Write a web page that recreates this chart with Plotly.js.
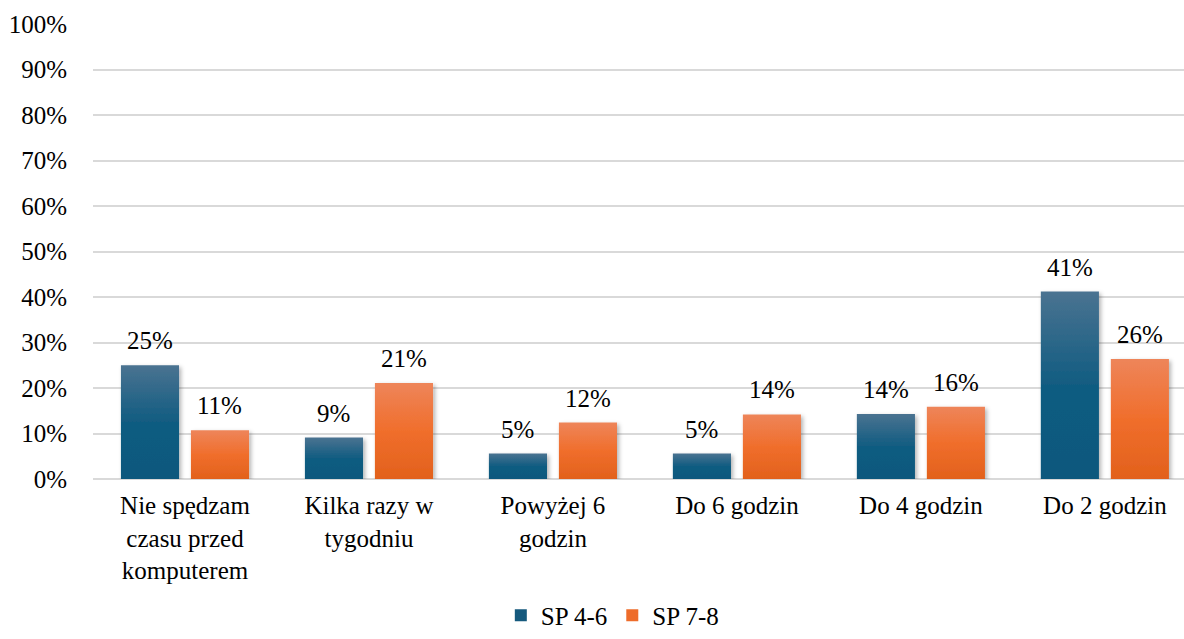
<!DOCTYPE html>
<html>
<head>
<meta charset="utf-8">
<script src="https://cdn.plot.ly/plotly-3.0.1.min.js"></script>
</head>
<body style="margin:0">
<div id="chart" style="width:1184px;height:639px"></div>
<script>
// ---- data ----
const categories = [
  "Nie spędzam<br>czasu przed<br>komputerem",
  "Kilka razy w<br>tygodniu",
  "Powyżej 6<br>godzin",
  "Do 6 godzin",
  "Do 4 godzin",
  "Do 2 godzin"
];
const seriesNames = ["SP 4-6", "SP 7-8"];
const sp46 = [25, 9.1, 5.6, 5.6, 14.3, 41.2];
const sp78 = [10.7, 21.1, 12.4, 14.2, 15.9, 26.4];
const sp46Labels = ["25%", "9%", "5%", "5%", "14%", "41%"];
const sp78Labels = ["11%", "21%", "12%", "14%", "16%", "26%"];
const yTickVals = [0,10,20,30,40,50,60,70,80,90,100];
const yTickText = ["0%","10%","20%","30%","40%","50%","60%","70%","80%","90%","100%"];

// ---- style ----
const BARGAP = 0.239, BARGROUPGAP = 0.17;
const slot = (1 - BARGAP) / 2;

const traces = [
  {type: "bar", name: seriesNames[0], x: categories, y: sp46, marker: {color: "#15597d"}, hoverinfo: "none"},
  {type: "bar", name: seriesNames[1], x: categories, y: sp78, marker: {color: "#ee6c2a"}, hoverinfo: "none"}
];

const annotations = [];
[[sp46, sp46Labels, -1], [sp78, sp78Labels, 1]].forEach(([vals, labs, side]) => {
  vals.forEach((v, i) => {
    annotations.push({
      x: i + side * slot / 2, y: v, xref: "x", yref: "y",
      text: labs[i], showarrow: false, yanchor: "bottom", yshift: 9,
      font: {color: "#000"}
    });
  });
});

const layout = {
  width: 1184, height: 639,
  margin: {l: 93, r: 0, t: 24, b: 156},
  font: {family: "Liberation Serif", size: 25},
  barmode: "group", bargap: BARGAP, bargroupgap: BARGROUPGAP,
  legend: {orientation: "h", x: 0.476, xanchor: "center", y: -0.3, yanchor: "middle",
           font: {color: "#000"}},
  xaxis: {
    type: "category", range: [-0.5, 5.43], automargin: false,
    showgrid: false, zeroline: false, showline: false,
    ticks: "outside", ticklen: 4, tickcolor: "rgba(0,0,0,0)",
    tickfont: {color: "#000"}
  },
  yaxis: {
    range: [0, 100], tickvals: yTickVals, ticktext: yTickText, automargin: false,
    gridcolor: "#d9d9d9", gridwidth: 2,
    zeroline: true, zerolinecolor: "#d9d9d9", zerolinewidth: 2,
    ticks: "outside", ticklen: 20, tickcolor: "rgba(0,0,0,0)",
    tickfont: {color: "#000"}
  },
  annotations: annotations
};

Plotly.newPlot("chart", traces, layout, {displayModeBar: false}).then(gd => {
  const svg = gd.querySelector(".main-svg");
  const ns = "http://www.w3.org/2000/svg";
  let defs = svg.querySelector("defs");
  if (!defs) { defs = document.createElementNS(ns, "defs"); svg.insertBefore(defs, svg.firstChild); }
  function grad(id, stops) {
    const g = document.createElementNS(ns, "linearGradient");
    g.setAttribute("id", id); g.setAttribute("x1", "0"); g.setAttribute("y1", "0");
    g.setAttribute("x2", "0"); g.setAttribute("y2", "1");
    stops.forEach(([o, c]) => {
      const s = document.createElementNS(ns, "stop");
      s.setAttribute("offset", o); s.setAttribute("stop-color", c);
      g.appendChild(s);
    });
    defs.appendChild(g);
  }
  grad("gBlue", [["0", "#4a7391"], ["0.5", "#115c81"], ["1", "#0d587d"]]);
  grad("gOrange", [["0", "#ee855a"], ["0.5", "#f06e2c"], ["1", "#e2611c"]]);
  const f = document.createElementNS(ns, "filter");
  f.setAttribute("id", "shadow"); f.setAttribute("x", "-20%"); f.setAttribute("y", "-20%");
  f.setAttribute("width", "140%"); f.setAttribute("height", "140%");
  const ds = document.createElementNS(ns, "feDropShadow");
  ds.setAttribute("dx", "2"); ds.setAttribute("dy", "2"); ds.setAttribute("stdDeviation", "2");
  ds.setAttribute("flood-color", "#000"); ds.setAttribute("flood-opacity", "0.3");
  f.appendChild(ds); defs.appendChild(f);
  gd.querySelectorAll(".trace.bars").forEach((t, k) => {
    t.querySelectorAll(".point path").forEach(p => {
      p.style.fill = k === 0 ? "url(#gBlue)" : "url(#gOrange)";
      p.setAttribute("filter", "url(#shadow)");
    });
  });
});
</script>
</body>
</html>
